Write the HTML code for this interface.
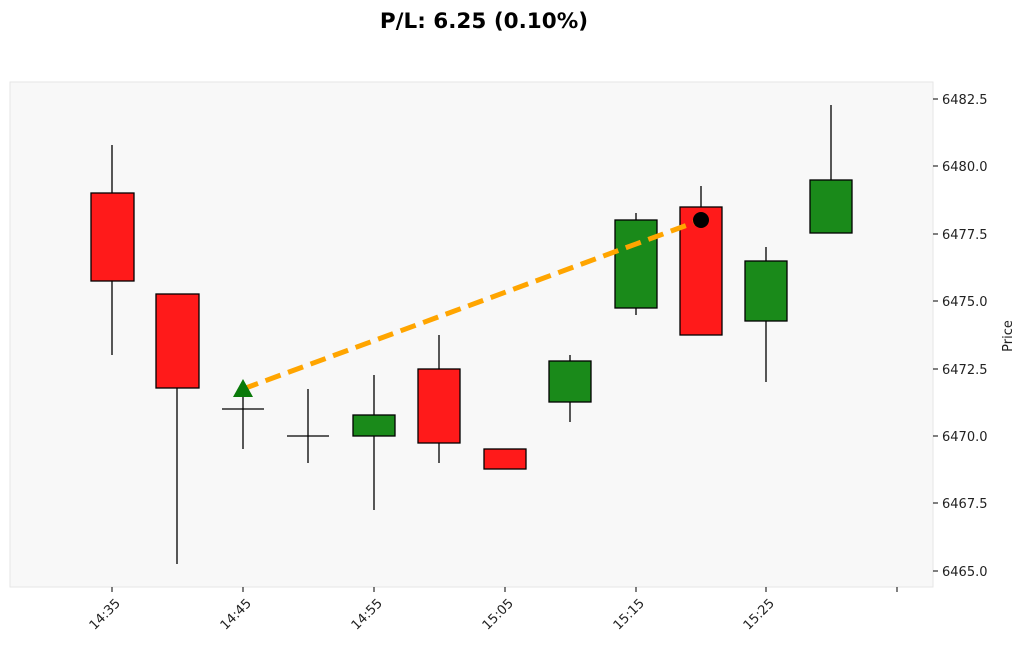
<!DOCTYPE html>
<html><head><style>body{margin:0;background:#fff}svg{display:block}</style></head><body>
<svg width="1024" height="647" xmlns="http://www.w3.org/2000/svg" font-family="DejaVu Sans, Liberation Sans, sans-serif">
<text x="484" y="28" font-size="21.5" font-weight="bold" text-anchor="middle">P/L: 6.25 (0.10%)</text>
<rect x="10" y="82" width="923" height="505" fill="#f8f8f8" stroke="#e6e6e6"/>
<g stroke="#000" stroke-width="1.3">
<line x1="112" y1="145" x2="112" y2="355"/><rect x="91" y="193" width="43" height="88" fill="#ff1a1a"/>
<line x1="177" y1="294" x2="177" y2="564"/><rect x="156" y="294" width="43" height="94" fill="#ff1a1a"/>
<line x1="243" y1="381" x2="243" y2="449"/><line x1="222" y1="409" x2="264" y2="409"/>
<line x1="308" y1="389" x2="308" y2="463"/><line x1="287" y1="436" x2="329" y2="436"/>
<line x1="374" y1="375" x2="374" y2="510"/><rect x="353" y="415" width="42" height="21" fill="#1a8a1a"/>
<line x1="439" y1="335" x2="439" y2="463"/><rect x="418" y="369" width="42" height="74" fill="#ff1a1a"/>
<rect x="484" y="449" width="42" height="20" fill="#ff1a1a"/>
<line x1="570" y1="355" x2="570" y2="422"/><rect x="549" y="361" width="42" height="41" fill="#1a8a1a"/>
<line x1="636" y1="213" x2="636" y2="315"/><rect x="615" y="220" width="42" height="88" fill="#1a8a1a"/>
<line x1="701" y1="186" x2="701" y2="207"/><rect x="680" y="207" width="42" height="128" fill="#ff1a1a"/>
<line x1="766" y1="247" x2="766" y2="382"/><rect x="745" y="261" width="42" height="60" fill="#1a8a1a"/>
<line x1="831" y1="105" x2="831" y2="180"/><rect x="810" y="180" width="42" height="53" fill="#1a8a1a"/>
</g>
<line x1="243" y1="389" x2="701" y2="220" stroke="#ffa500" stroke-width="5" stroke-dasharray="16,8"/>
<polygon points="243,379 233,397 253,397" fill="#0a7a0a"/>
<circle cx="701" cy="220" r="8" fill="#000"/>
<g font-size="13" fill="#222">
<g stroke="#000"><line x1="933" y1="99" x2="938" y2="99"/><line x1="933" y1="166" x2="938" y2="166"/><line x1="933" y1="234" x2="938" y2="234"/><line x1="933" y1="301" x2="938" y2="301"/><line x1="933" y1="369" x2="938" y2="369"/><line x1="933" y1="436" x2="938" y2="436"/><line x1="933" y1="503" x2="938" y2="503"/><line x1="933" y1="571" x2="938" y2="571"/></g>
<text x="942" y="104">6482.5</text><text x="942" y="171">6480.0</text><text x="942" y="239">6477.5</text><text x="942" y="306">6475.0</text><text x="942" y="374">6472.5</text><text x="942" y="441">6470.0</text><text x="942" y="508">6467.5</text><text x="942" y="576">6465.0</text>
<text transform="translate(1012,336) rotate(-90)" text-anchor="middle">Price</text>
<g stroke="#000"><line x1="112" y1="587" x2="112" y2="592"/><line x1="243" y1="587" x2="243" y2="592"/><line x1="374" y1="587" x2="374" y2="592"/><line x1="505" y1="587" x2="505" y2="592"/><line x1="636" y1="587" x2="636" y2="592"/><line x1="766" y1="587" x2="766" y2="592"/><line x1="897" y1="587" x2="897" y2="592"/></g>
<text transform="translate(121,604) rotate(-45)" text-anchor="end">14:35</text>
<text transform="translate(252,604) rotate(-45)" text-anchor="end">14:45</text>
<text transform="translate(383,604) rotate(-45)" text-anchor="end">14:55</text>
<text transform="translate(514,604) rotate(-45)" text-anchor="end">15:05</text>
<text transform="translate(645,604) rotate(-45)" text-anchor="end">15:15</text>
<text transform="translate(775,604) rotate(-45)" text-anchor="end">15:25</text>
</g>
</svg>
</body></html>
